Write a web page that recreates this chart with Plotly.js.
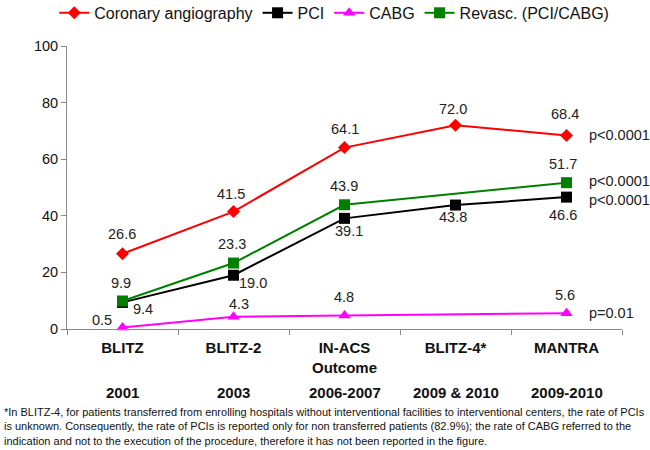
<!DOCTYPE html>
<html>
<head>
<meta charset="utf-8">
<script src="https://cdn.plot.ly/plotly-3.0.1.min.js"></script>
<style>html,body{margin:0;padding:0;background:#fff;}#chart{width:650px;height:450px;}</style>
</head>
<body>
<div id="chart"></div>
<script>
// ---- data ----
var studies = ["BLITZ", "BLITZ-2", "IN-ACS Outcome", "BLITZ-4*", "MANTRA"];
var studyLabels = ["<b>BLITZ</b>", "<b>BLITZ-2</b>", "<b>IN-ACS</b><br><b>Outcome</b>", "<b>BLITZ-4*</b>", "<b>MANTRA</b>"];
var studyYears = ["2001", "2003", "2006-2007", "2009 & 2010", "2009-2010"];
var angiography = [26.6, 41.5, 64.1, 72.0, 68.4];
var pci = [9.4, 19.0, 39.1, 43.8, 46.6];
var cabg = [0.5, 4.3, 4.8, null, 5.6];
var revasc = [9.9, 23.3, 43.9, null, 51.7];
var seriesNames = ["Coronary angiography", "PCI", "CABG", "Revasc. (PCI/CABG)"];
var pValues = ["p<0.0001", "p<0.0001", "p=0.01", "p<0.0001"];
var yTicks = [0, 20, 40, 60, 80, 100];
var footnote = "*In BLITZ-4, for patients transferred from enrolling hospitals without interventional facilities to interventional centers, the rate of PCIs<br>is unknown. Consequently, the rate of PCIs is reported only for non transferred patients (82.9%); the rate of CABG referred to the<br>indication and not to the execution of the procedure, therefore it has not been reported in the figure.";

// ---- styling ----
var FONT = "Arial, 'Liberation Sans', sans-serif";
var labelFont = {family: FONT, size: 14.5, color: "#222"};
var colors = ["#ff0000", "#000000", "#ff00ff", "#008000"];
var symbols = ["diamond", "square", "triangle-up", "square"];
var sizes = [10, 11, 11, 11];
// label offsets in pixels (dx right, dy up) for each point of each series
var labelShift = [
  [[-1, 20], [-3, 18], [0, 19], [-3, 16], [-2, 21]],
  [[20, -7], [19, -8], [4, -13], [-3, -12], [-4, -18]],
  [[-21, 8], [5, 13], [-1, 18], [0, 0], [-2, 18]],
  [[-2, 18], [-2, 19], [-1, 19], [0, 0], [-4, 19]]
];
var pShift = [[20, 0], [20, -3], [20, 0], [20, 2]];

function fmt(v){ return v === null ? "" : v.toFixed(1); }

var allSeries = [angiography, pci, cabg, revasc];
var traces = allSeries.map(function(vals, i){
  return {name: seriesNames[i], x: studies, y: vals, mode: "lines+markers", connectgaps: true,
    line: {color: colors[i], width: 2},
    marker: {symbol: symbols[i], size: sizes[i], color: colors[i]}, cliponaxis: false};
});

var annotations = [];
allSeries.forEach(function(vals, i){
  vals.forEach(function(v, j){
    if (v === null) return;
    annotations.push({x: studies[j], y: v, xref: "x", yref: "y", text: fmt(v), showarrow: false,
      xanchor: "center", yanchor: "middle", xshift: labelShift[i][j][0], yshift: labelShift[i][j][1],
      font: labelFont});
  });
  var last = vals[vals.length - 1];
  annotations.push({x: studies[4], y: last, xref: "x", yref: "y", text: pValues[i], showarrow: false,
    xanchor: "left", yanchor: "middle", xshift: pShift[i][0], yshift: pShift[i][1], font: labelFont});
});
studyYears.forEach(function(yr, j){
  annotations.push({x: studies[j], y: 0, xref: "x", yref: "paper", text: "<b>" + yr.replace("&", "&amp;") + "</b>",
    showarrow: false, xanchor: "center", yanchor: "middle", yshift: -63,
    font: {family: FONT, size: 15, color: "#111"}});
});
annotations.push({x: 0, y: 0, xref: "paper", yref: "paper", xanchor: "left", yanchor: "top",
  xshift: -65, yshift: -75, align: "left", text: footnote, showarrow: false,
  font: {family: FONT, size: 11, color: "#111"}});

var layout = {
  width: 650, height: 450,
  margin: {l: 67, r: 28, t: 46, b: 121, autoexpand: false},
  paper_bgcolor: "#fff", plot_bgcolor: "#fff",
  font: {family: FONT, color: "#111"},
  showlegend: true,
  legend: {orientation: "h", x: -0.023, xanchor: "left", y: 1.117, yanchor: "middle",
           font: {size: 16, color: "#111"}, itemwidth: 30, tracegroupgap: 0},
  xaxis: {type: "category", tickvals: studies, ticktext: studyLabels, tickson: "boundaries",
          ticks: "outside", ticklen: 5, tickcolor: "#888", showline: true, linecolor: "#888",
          linewidth: 1, showgrid: false, zeroline: false, range: [-0.5, 4.5],
          ticklabelstandoff: 5, tickfont: {size: 15, color: "#111"}},
  yaxis: {range: [0, 100], tickvals: yTicks, ticks: "outside", ticklen: 5, tickcolor: "#888",
          showline: true, linecolor: "#888", linewidth: 1, showgrid: false, zeroline: false,
          tickfont: {size: 14.5, color: "#111"}},
  annotations: annotations
};

Plotly.newPlot("chart", traces, layout, {displayModeBar: false, staticPlot: true});
</script>
</body>
</html>
